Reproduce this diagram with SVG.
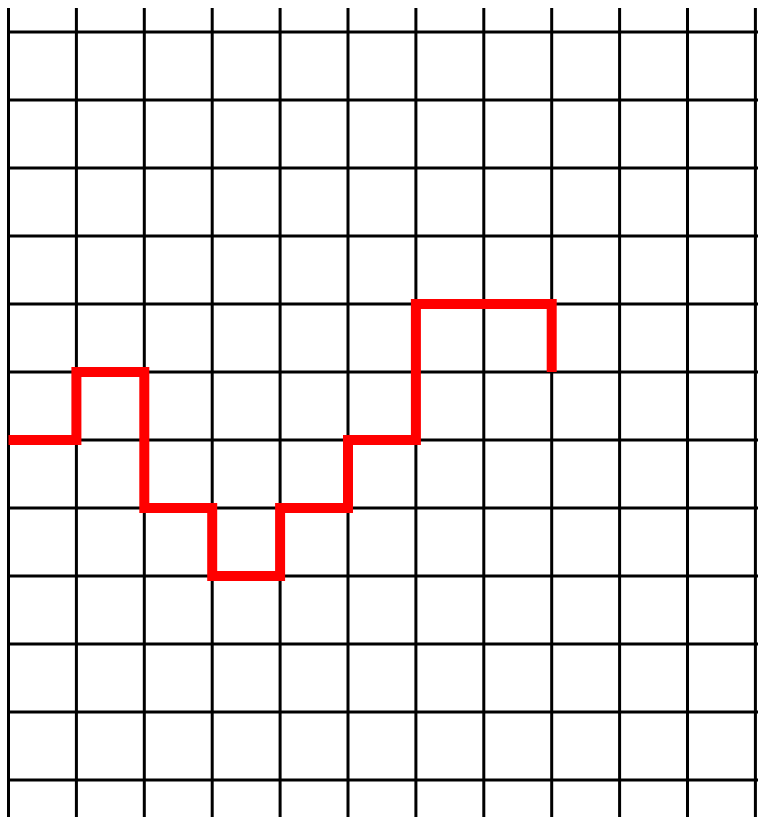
<svg xmlns="http://www.w3.org/2000/svg" width="758" height="817" viewBox="0 0 758 817">
<style>
.g{stroke:#000;stroke-width:3;fill:none}
.w{stroke:#f00;stroke-width:10;fill:none;stroke-linejoin:miter;stroke-linecap:butt}
</style>
<rect width="758" height="817" fill="#fff"/>
<g id="grid" class="g">
<path d="M8.5 8V817M76.4 8V817M144.3 8V817M212.2 8V817M280.1 8V817M348 8V817M415.9 8V817M483.8 8V817M551.7 8V817M619.6 8V817M687.5 8V817M755.4 8V817"/>
<path d="M8.5 32H758M8.5 100H758M8.5 168H758M8.5 236H758M8.5 304H758M8.5 372H758M8.5 440H758M8.5 508H758M8.5 576H758M8.5 644H758M8.5 712H758M8.5 780H758"/>
</g>
<g id="wave">
<path class="w" d="M8.5 440H76.4V372H144.3V508H212.2V576H280.1V508H348V440H415.9V304H551.7V372"/>
</g>
</svg>
